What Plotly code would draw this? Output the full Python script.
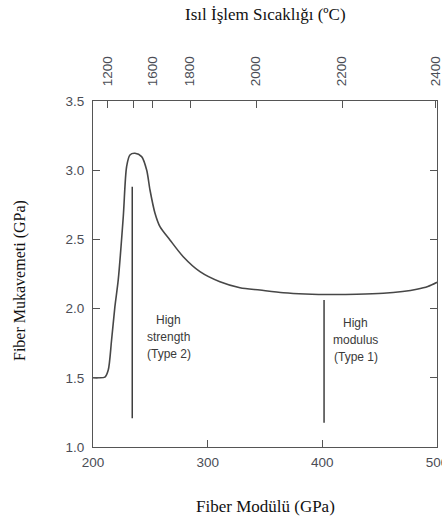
import plotly.graph_objects as go

# Strength curve (Fiber modulus GPa vs strength GPa)
modulus = [200.0, 205.0, 210.4, 213.3, 216.2, 219.1, 222.0, 226.4, 229.3, 232.2, 236.6,
           242.4, 246.8, 249.7, 254.0, 258.4, 267.1, 278.7, 293.3, 310.7, 328.2,
           345.6, 366.0, 385.0, 409.6, 430.0, 453.2, 470.0, 482.4, 492.0, 500.0]
strength = [1.50, 1.50, 1.505, 1.556, 1.773, 2.014, 2.207, 2.664, 3.025, 3.110, 3.122,
            3.098, 3.001, 2.857, 2.691, 2.592, 2.496, 2.375, 2.267, 2.194, 2.151,
            2.134, 2.115, 2.106, 2.102, 2.104, 2.111, 2.124, 2.140, 2.160, 2.19]

# Marker lines for fibre types
type2_x = [234.2, 234.2]
type2_y = [1.207, 2.88]
type1_x = [401.5, 401.5]
type1_y = [1.176, 2.062]

# Label texts
type2_lines = ["High", "strength", "(Type 2)"]
type2_pos = (266.0, [1.918, 1.795, 1.672])
type1_lines = ["High", "modulus", "(Type 1)"]
type1_pos = (429.0, [1.896, 1.773, 1.650])

# Top axis (heat treatment temperature) ticks, in modulus units
temp_tickvals = [213.0, 235.7, 252.3, 284.6, 342.2, 417.2, 498.4]
temp_ticktext = ["1200", "", "1600", "1800", "2000", "2200", "2400"]

bottom_ticks = [200, 300, 400, 500]
left_ticks = [1.0, 1.5, 2.0, 2.5, 3.0, 3.5]

line_col = "#474747"
axis_col = "#555555"
tick_font = dict(family="Liberation Sans, Arial", size=13.5, color="#4a4d55")
serif17 = dict(family="Liberation Serif, Times New Roman", size=17, color="#111111")
serif16 = dict(family="Liberation Serif, Times New Roman", size=16, color="#111111")
ann_font = dict(family="Liberation Sans, Arial", size=12, color="#3a3a3a")

fig = go.Figure()
fig.add_trace(go.Scatter(x=modulus, y=strength, mode="lines",
                         line=dict(color=line_col, width=1.6, shape="spline", smoothing=0.8),
                         showlegend=False, hoverinfo="skip"))
fig.add_trace(go.Scatter(x=type2_x, y=type2_y, mode="lines",
                         line=dict(color="#222222", width=1.3), showlegend=False))
fig.add_trace(go.Scatter(x=type1_x, y=type1_y, mode="lines",
                         line=dict(color="#222222", width=1.3), showlegend=False))
# dummy trace for top axis
fig.add_trace(go.Scatter(x=[200, 500], y=[1.0, 1.0], xaxis="x2", mode="lines",
                         line=dict(width=0), showlegend=False, hoverinfo="skip"))

annots = []
for txt, yy in zip(type2_lines, type2_pos[1]):
    annots.append(dict(x=type2_pos[0], y=yy, xref="x", yref="y", text=txt, showarrow=False,
                       font=ann_font, xanchor="center", yanchor="middle"))
for txt, yy in zip(type1_lines, type1_pos[1]):
    annots.append(dict(x=type1_pos[0], y=yy, xref="x", yref="y", text=txt, showarrow=False,
                       font=ann_font, xanchor="center", yanchor="middle"))

annots.append(dict(x=0.5, y=-0.173, xref="paper", yref="paper", text="Fiber Modülü (GPa)",
                   showarrow=False, font=serif17, xanchor="center", yanchor="middle"))
annots.append(dict(x=-0.212, y=0.48, xref="paper", yref="paper", text="Fiber Mukavemeti (GPa)",
                   showarrow=False, font=serif16, textangle=-90, xanchor="center", yanchor="middle"))
annots.append(dict(x=0.5, y=1.249, xref="paper", yref="paper", text="Isıl İşlem Sıcaklığı (ºC)",
                   showarrow=False, font=serif17, xanchor="center", yanchor="middle"))

fig.update_layout(
    width=442, height=519,
    margin=dict(l=93, r=5, t=101, b=72, autoexpand=False),
    paper_bgcolor="white", plot_bgcolor="white",
    annotations=annots,
    xaxis=dict(range=[200, 500], tickvals=bottom_ticks, ticks="inside", ticklen=7,
               tickcolor=axis_col, showline=True, linecolor=axis_col, linewidth=1.2,
               showgrid=False, zeroline=False, tickfont=tick_font, ticklabelstandoff=3,
               ticklabeloverflow="allow", automargin=False),
    xaxis2=dict(range=[200, 500], overlaying="x", side="top", tickvals=temp_tickvals,
                ticktext=temp_ticktext, ticks="inside", ticklen=7, tickcolor=axis_col,
                showline=True, linecolor=axis_col, linewidth=1.2, showgrid=False,
                zeroline=False, tickangle=-90, tickfont=tick_font, ticklabelstandoff=11,
                ticklabeloverflow="allow", automargin=False),
    yaxis=dict(range=[1.0, 3.5], tickvals=left_ticks, tickformat=".1f", ticks="inside",
               ticklen=7, tickcolor=axis_col, showline=True, linecolor=axis_col,
               linewidth=1.2, mirror="ticks", showgrid=False, zeroline=False,
               tickfont=tick_font, ticklabelstandoff=5, automargin=False),
)

fig.write_html("out.html")
